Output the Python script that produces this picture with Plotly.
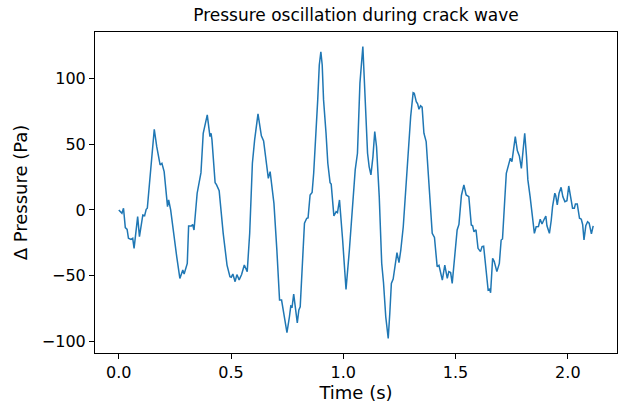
import plotly.graph_objects as go

time_s = [0.000, 0.014, 0.021, 0.029, 0.037, 0.043, 0.054, 0.062, 0.068, 0.075, 0.084, 0.092,
          0.107, 0.115, 0.122, 0.127, 0.140, 0.148, 0.158, 0.169, 0.184, 0.192, 0.202, 0.217,
          0.222, 0.231, 0.249, 0.258, 0.272, 0.285, 0.291, 0.305, 0.311, 0.323, 0.329, 0.335,
          0.349, 0.359, 0.366, 0.376, 0.381, 0.394, 0.406, 0.411, 0.415, 0.429, 0.435, 0.447,
          0.465, 0.482, 0.495, 0.501, 0.508, 0.518, 0.526, 0.536, 0.547, 0.559, 0.572, 0.583,
          0.595, 0.605, 0.620, 0.635, 0.645, 0.657, 0.666, 0.674, 0.691, 0.704, 0.716, 0.725,
          0.735, 0.749, 0.760, 0.766, 0.772, 0.779, 0.795, 0.802, 0.808, 0.820, 0.827, 0.837,
          0.843, 0.852, 0.861, 0.868, 0.879, 0.886, 0.893, 0.900, 0.906, 0.912, 0.923, 0.931,
          0.941, 0.946, 0.958, 0.968, 0.974, 0.983, 0.997, 1.012, 1.027, 1.041, 1.053, 1.063,
          1.074, 1.087, 1.097, 1.108, 1.115, 1.123, 1.132, 1.140, 1.148, 1.160, 1.171, 1.179,
          1.189, 1.200, 1.207, 1.214, 1.222, 1.231, 1.239, 1.248, 1.256, 1.267, 1.278, 1.289,
          1.300, 1.311, 1.316, 1.325, 1.331, 1.337, 1.344, 1.351, 1.359, 1.369, 1.381, 1.396,
          1.406, 1.418, 1.426, 1.433, 1.441, 1.452, 1.463, 1.470, 1.478, 1.485, 1.496, 1.507,
          1.515, 1.526, 1.537, 1.547, 1.559, 1.570, 1.576, 1.582, 1.591, 1.600, 1.611, 1.618,
          1.625, 1.636, 1.645, 1.652, 1.656, 1.665, 1.672, 1.684, 1.695, 1.703, 1.709, 1.719,
          1.726, 1.736, 1.744, 1.751, 1.758, 1.766, 1.775, 1.784, 1.793, 1.800, 1.808, 1.816,
          1.822, 1.832, 1.843, 1.851, 1.859, 1.869, 1.877, 1.885, 1.892, 1.902, 1.907, 1.918,
          1.926, 1.932, 1.942, 1.946, 1.953, 1.961, 1.970, 1.978, 1.987, 1.996, 2.004, 2.013,
          2.021, 2.029, 2.034, 2.042, 2.052, 2.060, 2.066, 2.072, 2.080, 2.088, 2.095, 2.105,
          2.113]

pressure_pa = [0, -2.5, 1.3, -13.4, -14.7, -21.5, -22.3, -21.5, -29.1, -19, -5, -20.2,
               -3.8, -4.3, 0.5, 1.3, 27.8, 43, 61.2, 48, 34.2, 35.4, 29.1, 2.5,
               7.6, 0, -25.3, -35.4, -51.9, -45.6, -48.6, -40.5, -12.1, -12.1, -11, -15.2,
               12.7, 24.1, 28.3, 58.2, 62, 72.1, 55.7, 58.2, 53.2, 20.7, 19.2, 14.7,
               -17.7, -41.8, -50.6, -51, -48.6, -54.4, -49, -53, -49, -41.8, -46.8, -17.7,
               35.4, 53.2, 72.9, 56.2, 52.4, 35.4, 24, 29.1, 5, -30.4, -68.3, -68.3,
               -78.5, -93.1, -81, -72.9, -73.5, -63.8, -85.6, -75.9, -73.5, -38, -10.1, -6.3,
               -6, 11.4, 13.2, 27.8, 58.2, 83.5, 110, 120, 110, 83.5, 58.2, 35.4,
               20.7, 19.6, -4.6, -1.3, -2, 7.6, -22.8, -60.2, -30.4, 1, 30.4, 43,
               96.2, 124, 86, 43, 32.9, 26.6, 40.5, 59.5, 48, 10.1, -40.5, -55,
               -81, -97.4, -78.5, -55.7, -52.4, -41.8, -32.4, -40, -30.4, -12.7, 15.2, 45.6,
               70.9, 89, 88.6, 82.2, 80.5, 76.4, 79, 78, 58.2, 51.9, 22.8, -17.7,
               -20.9, -43, -42, -47.6, -53.2, -41.8, -51.9, -46.8, -47.5, -55.7, -35.4, -15.2,
               -11, 11, 19, 11.4, 10.1, -11.4, -12, -16.5, -15, -29.1, -31.6, -27.8,
               -27.5, -48, -60.7, -60, -62.8, -36.7, -39, -46.8, -40.5, -22.8, -22, 7.6,
               27.8, 34.2, 39.2, 36.7, 48, 55.7, 45, 41, 31.6, 45, 58.2, 40.5,
               22.8, 10.1, -5, -17.7, -12.7, -12.5, -7, -10.6, -8, -4.6, -12, -17.7,
               -8, 2.5, 12.7, 11, 3.8, 12.7, 17.2, 10, 6.3, 7, 18.2, 10,
               1.3, 1.3, 4.6, 4.6, -6.3, -7, -11, -22.8, -12, -8.9, -10, -18.2,
               -12.1]

x_ticks = [0.0, 0.5, 1.0, 1.5, 2.0]
x_tick_labels = ["0.0", "0.5", "1.0", "1.5", "2.0"]
y_ticks = [-100, -50, 0, 50, 100]

title_text = "Pressure oscillation during crack wave"
x_title = "Time (s)"
y_title = "Δ Pressure (Pa)"

fig = go.Figure()
fig.add_trace(go.Scatter(x=time_s, y=pressure_pa, mode="lines",
                         line=dict(color="#1f77b4", width=1.5), showlegend=False))

font_family = "DejaVu Sans"
axis_common = dict(showline=True, linecolor="black", linewidth=1, mirror=True,
                   ticks="outside", ticklen=5, tickcolor="black", tickwidth=1,
                   showgrid=False, zeroline=False,
                   tickfont=dict(family=font_family, size=16, color="black"))

fig.update_layout(
    width=619, height=407,
    margin=dict(l=95, r=2, t=32, b=54),
    paper_bgcolor="white", plot_bgcolor="white",
    title=dict(text=title_text, x=0.5, xref="paper", xanchor="center",
               y=1 - 15 / 407, yref="container", yanchor="middle",
               font=dict(family=font_family, size=17, color="black")),
    xaxis=dict(range=[-0.106, 2.219], tickvals=x_ticks, ticktext=x_tick_labels,
               title=dict(text=x_title, standoff=5,
                          font=dict(family=font_family, size=18, color="black")),
               **axis_common),
    yaxis=dict(range=[-108.5, 135], tickvals=y_ticks,
               title=dict(text=y_title, standoff=9,
                          font=dict(family=font_family, size=18, color="black")),
               **axis_common),
)

fig.write_html("out.html", config={"displayModeBar": False},
               post_script="document.body.style.margin='0';document.body.style.padding='0';document.body.style.overflow='hidden';")
